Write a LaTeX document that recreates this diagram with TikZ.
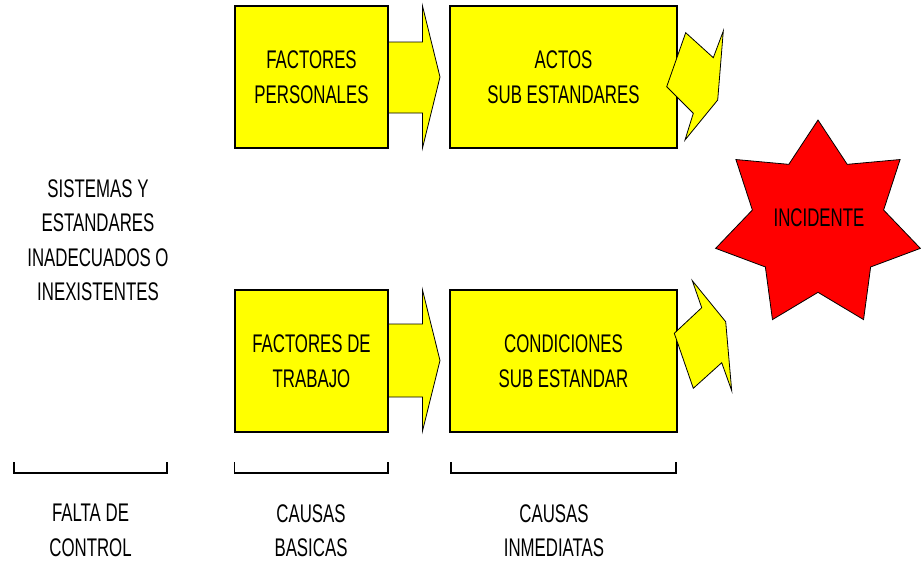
\documentclass[tikz,border=0pt]{standalone}
\usepackage{fontspec}
\setmainfont{Liberation Sans}[FakeStretch=0.66]
\usetikzlibrary{shapes.geometric}
\definecolor{boxyellow}{RGB}{255,255,0}
\definecolor{burstred}{RGB}{255,0,0}
\begin{document}
\begin{tikzpicture}[x=1pt,y=-1pt,
  txt/.style={font=\fontsize{25.5}{34.5}\selectfont, align=center, inner sep=0pt},
  box/.style={draw=black, line width=1.3pt, fill=boxyellow, minimum height=142pt, inner sep=0pt},
  blockarrow/.style={draw=black, line width=0.8pt, fill=boxyellow, line join=miter},
  bolt/.style={draw=black, line width=0.8pt, fill=boxyellow, line join=miter},
  bracket/.style={draw=black, line width=1.1pt},
  burst/.style={star, star points=7, star point ratio=1.56, minimum size=210pt, inner sep=0pt,
    draw=black, line width=0.8pt, fill=burstred}]
\useasboundingbox (0,0) rectangle (921,562);

% block arrows (behind the boxes)
\draw[blockarrow] (380,42) -- (422.5,42) -- (422.5,6) -- (440,77) -- (422.5,148) -- (422.5,113) -- (380,113) -- cycle;
\draw[blockarrow] (380,324) -- (422.5,324) -- (422.5,290) -- (440,360.5) -- (422.5,431) -- (422.5,397) -- (380,397) -- cycle;

% boxes
\node[box, txt, minimum width=153pt] (fp) at (311.5,77) {FACTORES\\PERSONALES};
\node[box, txt, minimum width=227pt] (asb) at (563.5,77) {ACTOS\\SUB ESTANDARES};
\node[box, txt, minimum width=153pt] (ft) at (311.5,361) {FACTORES DE\\TRABAJO};
\node[box, txt, minimum width=227pt] (cse) at (563.5,361) {CONDICIONES\\SUB ESTANDAR};

% lightning bolts
\draw[bolt] (685.7,32.7) -- (713.3,57.7) -- (723.3,31) -- (717.7,100) -- (685,140) -- (693.3,113.3) -- (666.7,86.7) -- cycle;
\draw[bolt] (692.3,280.7) -- (725.7,321.7) -- (731.7,390.7) -- (721.7,362.7) -- (693.3,388.3) -- (674.3,333.3) -- (701.7,307.7) -- cycle;

% incident star
\node[burst] (inc) at (818,225) {};
\node[txt] (inct) at (819,218) {INCIDENTE};

% left text
\node[txt] (sis) at (98,240) {SISTEMAS Y\\ESTANDARES\\INADECUADOS O\\INEXISTENTES};

% brackets
\draw[bracket] (14,462) -- (14,473) -- (167,473) -- (167,462);
\draw[bracket] (234.5,462) -- (234.5,473) -- (388,473) -- (388,462);
\draw[bracket] (451,462) -- (451,473) -- (676,473) -- (676,462);

% bottom labels
\node[txt] (fc) at (90.5,530.5) {FALTA DE\\CONTROL};
\node[txt] (cb) at (311,530.5) {CAUSAS\\BASICAS};
\node[txt] (ci) at (554,530.5) {CAUSAS\\INMEDIATAS};
\end{tikzpicture}
\end{document}
